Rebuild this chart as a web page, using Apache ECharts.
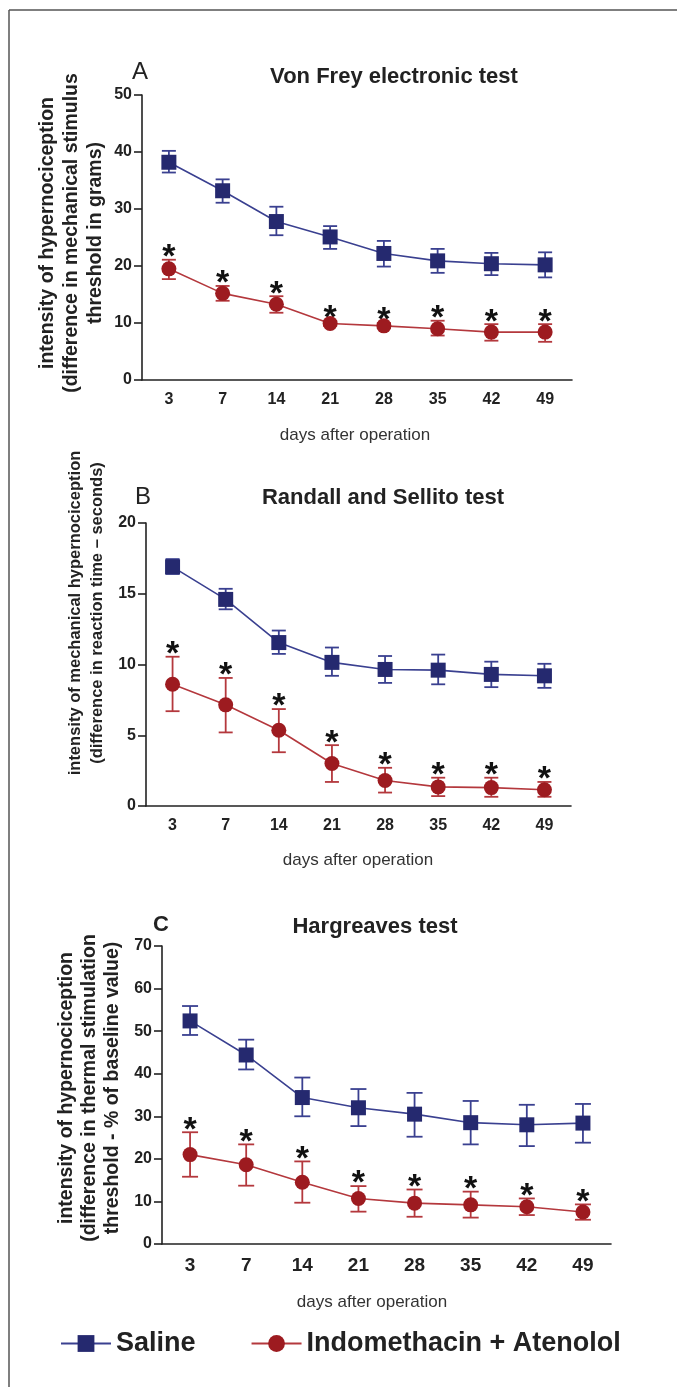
<!DOCTYPE html>
<html>
<head>
<meta charset="utf-8">
<script src="https://cdn.jsdelivr.net/npm/echarts@6/dist/echarts.min.js"></script>
<style>
  html, body { margin: 0; padding: 0; background: #fff; }
  #chart { width: 677px; height: 1387px; }
</style>
</head>
<body>
<div id="chart"></div>
<script>
  // days after operation
  var days = ['3', '7', '14', '21', '28', '35', '42', '49'];

  // A - Von Frey electronic test
  var salineA    = [38.2, 33.2, 27.8, 25.1, 22.2, 20.9, 20.4, 20.2];
  var salineA_lo = [36.4, 31.1, 25.4, 23.0, 19.9, 18.8, 18.4, 18.0];
  var salineA_hi = [40.2, 35.2, 30.4, 27.0, 24.4, 23.0, 22.3, 22.4];
  var indoA      = [19.5, 15.2, 13.3, 9.9, 9.5, 9.0, 8.4, 8.4];
  var indoA_lo   = [17.7, 13.9, 11.8, 9.5, 9.1, 7.8, 6.9, 6.7];
  var indoA_hi   = [21.1, 16.5, 14.7, 10.4, 10.0, 10.4, 9.8, 9.8];

  // B - Randall and Sellito test
  var salineB    = [16.9, 14.6, 11.55, 10.15, 9.65, 9.6, 9.3, 9.2];
  var salineB_lo = [16.4, 13.9, 10.75, 9.2, 8.7, 8.6, 8.4, 8.35];
  var salineB_hi = [17.45, 15.35, 12.4, 11.2, 10.6, 10.7, 10.2, 10.05];
  var indoB      = [8.6, 7.15, 5.35, 3.0, 1.8, 1.35, 1.3, 1.15];
  var indoB_lo   = [6.7, 5.2, 3.8, 1.7, 0.95, 0.7, 0.65, 0.65];
  var indoB_hi   = [10.55, 9.05, 6.85, 4.3, 2.7, 2.0, 2.0, 1.7];

  // C - Hargreaves test
  var salineC    = [52.4, 44.4, 34.4, 32.0, 30.5, 28.5, 28.0, 28.4];
  var salineC_lo = [49.1, 41.0, 30.0, 27.7, 25.2, 23.4, 23.0, 23.8];
  var salineC_hi = [55.9, 48.0, 39.1, 36.4, 35.5, 33.6, 32.7, 32.9];
  var indoC      = [21.0, 18.6, 14.5, 10.7, 9.6, 9.2, 8.75, 7.5];
  var indoC_lo   = [15.8, 13.7, 9.7, 7.6, 6.4, 6.2, 6.8, 5.7];
  var indoC_hi   = [26.25, 23.4, 19.4, 13.6, 12.8, 12.3, 10.7, 9.3];

  var FONT = '"Liberation Sans", Arial, Helvetica, sans-serif';
  var BLUE = '#25296f', BLUE_LINE = '#3a4090';
  var RED = '#9d1b20', RED_LINE = '#b4383d';
  var INK = '#222';

  function errData(lo, hi) {
    var out = [];
    for (var i = 0; i < lo.length; i++) {
      out.push([i, lo[i], hi[i]]);
    }
    return out;
  }

  // error bar with caps, optional asterisk over the top cap
  function errRender(color, star, w) {
    return function (params, api) {
      var idx = api.value(0);
      var lo = api.coord([idx, api.value(1)]);
      var hi = api.coord([idx, api.value(2)]);
      var st = { stroke: color, lineWidth: 1.8 };
      var kids = [
        { type: 'line', shape: { x1: hi[0], y1: hi[1], x2: lo[0], y2: lo[1] }, style: st },
        { type: 'line', shape: { x1: hi[0] - w, y1: hi[1], x2: hi[0] + w, y2: hi[1] }, style: st },
        { type: 'line', shape: { x1: lo[0] - w, y1: lo[1], x2: lo[0] + w, y2: lo[1] }, style: st }
      ];
      if (star) {
        kids.push({
          type: 'text',
          x: hi[0], y: hi[1] - 2,
          style: {
            text: '*', fill: '#111', font: 'bold 34px ' + FONT,
            align: 'center', verticalAlign: 'middle',
            textAlign: 'center', textVerticalAlign: 'middle'
          }
        });
      }
      return { type: 'group', children: kids };
    };
  }

  var grids = [
    { left: 142, top: 95, width: 430, height: 285 },
    { left: 146, top: 523, width: 425, height: 283 },
    { left: 162, top: 946, width: 449, height: 298 }
  ];
  var yMax = [50, 20, 70];
  var yStep = [10, 5, 10];
  var yFont = [16, 16, 16];
  var xFont = [16, 16, 19];
  var capW = [7, 7, 8];

  var panels = [
    [salineA, salineA_lo, salineA_hi, indoA, indoA_lo, indoA_hi],
    [salineB, salineB_lo, salineB_hi, indoB, indoB_lo, indoB_hi],
    [salineC, salineC_lo, salineC_hi, indoC, indoC_lo, indoC_hi]
  ];

  var xAxes = [], yAxes = [], lines = [], bars = [];
  for (var p = 0; p < 3; p++) {
    xAxes.push({
      type: 'category', gridIndex: p, data: days, boundaryGap: true,
      axisLine: { lineStyle: { color: INK, width: 1.6 } },
      axisTick: { alignWithLabel: true, length: 7, lineStyle: { color: INK, width: 1.6 } },
      axisLabel: { color: INK, fontFamily: FONT, fontWeight: 'bold', fontSize: xFont[p], margin: 12 },
      splitLine: { show: false }
    });
    yAxes.push({
      type: 'value', gridIndex: p, min: 0, max: yMax[p], interval: yStep[p],
      axisLine: { show: true, lineStyle: { color: INK, width: 1.6 } },
      axisTick: { show: true, length: 8, lineStyle: { color: INK, width: 1.6 } },
      axisLabel: { color: INK, fontFamily: FONT, fontWeight: 'bold', fontSize: yFont[p], margin: 10 },
      splitLine: { show: false }
    });
    var d = panels[p];
    lines.push({
      type: 'line', name: 'Saline', xAxisIndex: p, yAxisIndex: p, z: 3,
      data: d[0], symbol: 'rect', symbolSize: 15,
      itemStyle: { color: BLUE }, lineStyle: { color: BLUE_LINE, width: 1.6 }
    });
    lines.push({
      type: 'line', name: 'Indomethacin + Atenolol', xAxisIndex: p, yAxisIndex: p, z: 3,
      data: d[3], symbol: 'circle', symbolSize: 15,
      itemStyle: { color: RED }, lineStyle: { color: RED_LINE, width: 1.6 }
    });
    bars.push({
      type: 'custom', name: 'Saline', xAxisIndex: p, yAxisIndex: p, z: 1,
      renderItem: errRender(BLUE_LINE, false, capW[p]),
      encode: { x: 0, y: [1, 2] }, data: errData(d[1], d[2]), silent: true
    });
    bars.push({
      type: 'custom', name: 'Indomethacin + Atenolol', xAxisIndex: p, yAxisIndex: p, z: 1,
      renderItem: errRender(RED_LINE, true, capW[p]),
      encode: { x: 0, y: [1, 2] }, data: errData(d[4], d[5]), silent: true
    });
  }

  function txt(x, y, s, font, color) {
    return {
      type: 'text', x: x, y: y,
      style: {
        text: s, font: font, fill: color || INK,
        textAlign: 'center', textVerticalAlign: 'middle'
      }
    };
  }

  function vtitle(x, y, rows, size, lh) {
    return {
      type: 'text', x: x, y: y, rotation: Math.PI / 2,
      style: {
        text: rows.join('\n'), font: 'bold ' + size + 'px ' + FONT, fill: INK,
        textAlign: 'center', textVerticalAlign: 'middle', lineHeight: lh
      }
    };
  }

  var graphics = [
    // frame
    { type: 'line', shape: { x1: 9, y1: 10, x2: 677, y2: 10 }, style: { stroke: '#555', lineWidth: 1.5 } },
    { type: 'line', shape: { x1: 9, y1: 10, x2: 9, y2: 1387 }, style: { stroke: '#555', lineWidth: 1.5 } },
    // panel letters and titles
    txt(140, 72, 'A', '24px ' + FONT),
    txt(394, 77, 'Von Frey electronic test', 'bold 22px ' + FONT),
    txt(143, 497, 'B', '24px ' + FONT),
    txt(383, 498, 'Randall and Sellito test', 'bold 22px ' + FONT),
    txt(161, 925, 'C', 'bold 22px ' + FONT),
    txt(375, 927, 'Hargreaves test', 'bold 22px ' + FONT),
    // x axis titles
    txt(355, 435, 'days after operation', '17px ' + FONT, '#333'),
    txt(358, 860, 'days after operation', '17px ' + FONT, '#333'),
    txt(372, 1302, 'days after operation', '17px ' + FONT, '#333'),
    // y axis titles
    vtitle(72, 233, ['intensity of hypernociception', '(difference in mechanical stimulus', 'threshold in grams)'], 19.5, 24),
    vtitle(86, 613, ['intensity of mechanical hypernociception', '(difference in reaction time \u2013 seconds)'], 16.5, 22),
    vtitle(90, 1088, ['intensity of hypernociception', '(difference in thermal stimulation', 'threshold - % of baseline value)'], 19.5, 23)
  ];

  var chart = echarts.init(document.getElementById('chart'), null, { renderer: 'canvas' });
  chart.setOption({
    backgroundColor: '#fff',
    animation: false,
    grid: grids,
    xAxis: xAxes,
    yAxis: yAxes,
    legend: {
      data: ['Saline', 'Indomethacin + Atenolol'],
      left: 55, top: 1325,
      itemWidth: 50, itemHeight: 21, itemGap: 55,
      selectedMode: false,
      textStyle: { color: INK, fontFamily: FONT, fontWeight: 'bold', fontSize: 27 }
    },
    graphic: graphics,
    series: lines.concat(bars)
  });
</script>
</body>
</html>
